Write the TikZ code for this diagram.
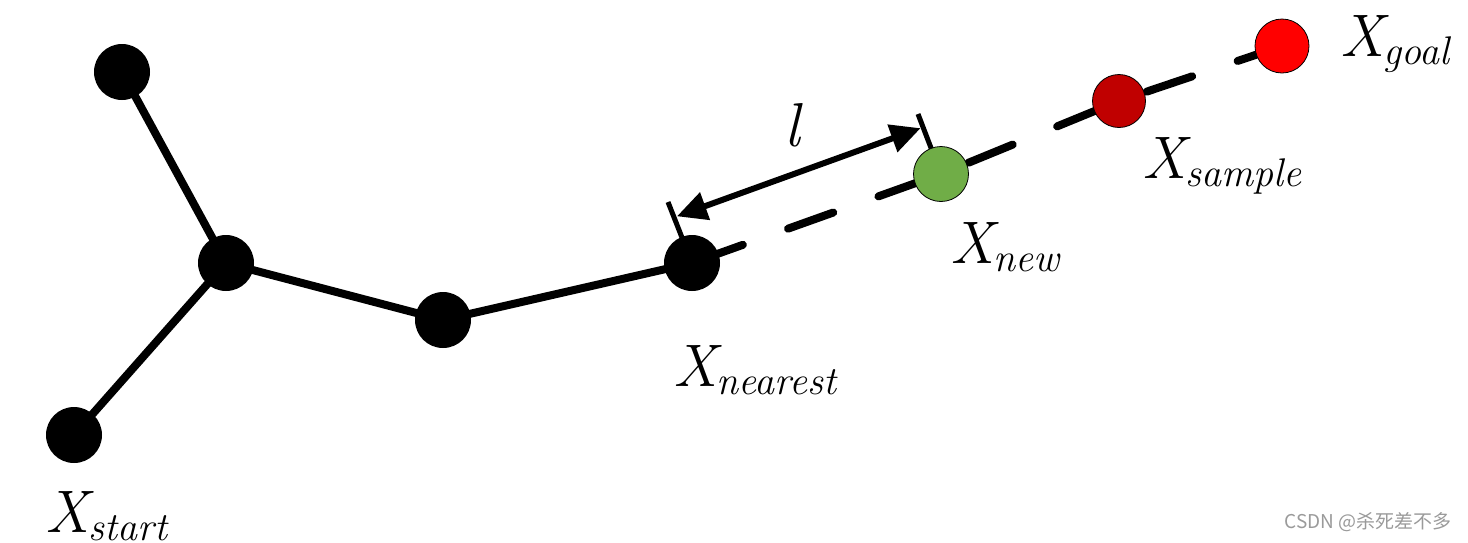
\documentclass[tikz,border=0pt]{standalone}
\usepackage{fontspec}
\newfontfamily\cjkfont{Noto Sans CJK SC}
\usetikzlibrary{arrows.meta,backgrounds}
\definecolor{newgreen}{HTML}{70AD47}
\definecolor{samplered}{HTML}{C00000}
\definecolor{goalred}{HTML}{FF0000}
\definecolor{wmgray}{HTML}{9A9A9A}
\newcommand\xlbl[2]{\itshape\fontsize{60}{60}\selectfont #1\raisebox{-8pt}{\fontsize{40}{40}\selectfont #2}}
\begin{document}
\begin{tikzpicture}[x=1pt,y=-1pt,
  vtx/.style={circle, fill=black, minimum size=56pt, inner sep=0pt},
  cvtx/.style={circle, draw=black, line width=0.8pt, minimum size=55pt, inner sep=0pt},
  edgeline/.style={line width=8pt},
  dashline/.style={line width=8pt, line cap=round, dash pattern=on 48pt off 48pt, dash phase=90pt},
  tickline/.style={line width=5pt},
  dimline/.style={line width=6pt, shorten <=2pt, shorten >=2pt,
    {Triangle[length=30pt,width=28pt]}-{Triangle[length=30pt,width=28pt]}},
  lab/.style={anchor=base west, inner sep=0pt}]
\useasboundingbox (0,0) rectangle (1468,542);
% vertices
\node[vtx] (a) at (122,72) {};
\node[vtx] (b) at (226,263) {};
\node[vtx] (c) at (74,435) {};
\node[vtx] (d) at (443,320) {};
\node[vtx] (n) at (692,263) {};
\node[cvtx, fill=newgreen] (w) at (941,174) {};
\node[cvtx, fill=samplered, minimum size=53pt] (s) at (1119,101) {};
\node[cvtx, fill=goalred, minimum size=54pt] (g) at (1282,46) {};
% tick ends and arrow ends
\coordinate (nt) at (668,202);
\coordinate (wt) at (918,114);
\coordinate (na) at (675,217);
\coordinate (wa) at (922.5,127.5);
\begin{scope}[on background layer]
  \draw[edgeline] (a.center) -- (b.center);
  \draw[edgeline] (c.center) -- (b.center);
  \draw[edgeline] (b.center) -- (d.center);
  \draw[edgeline] (d.center) -- (n.center);
  \draw[dashline] (n.center) -- (w.center) -- (s.center) -- (g.center);
  \draw[tickline] (n.center) -- (nt);
  \draw[tickline] (w.center) -- (wt);
\end{scope}
\draw[dimline] (na) -- (wa);
% labels
\node[lab] (ll) at (784,146) {\itshape\fontsize{62}{62}\selectfont l};
\node[lab] (ls) at (45,532) {\xlbl{X}{start}};
\node[lab] (ln) at (673,386) {\xlbl{X}{nearest}};
\node[lab] (lw) at (950,263) {\xlbl{X}{new}};
\node[lab] (lsa) at (1142,178) {\xlbl{X}{sample}};
\node[lab] (lg) at (1340,56) {\xlbl{X}{goal}};
\node[anchor=base east, inner sep=0pt, text=wmgray] (wm) at (1452,528)
  {\cjkfont\fontsize{19}{19}\selectfont CSDN @杀死差不多};
\end{tikzpicture}
\end{document}
